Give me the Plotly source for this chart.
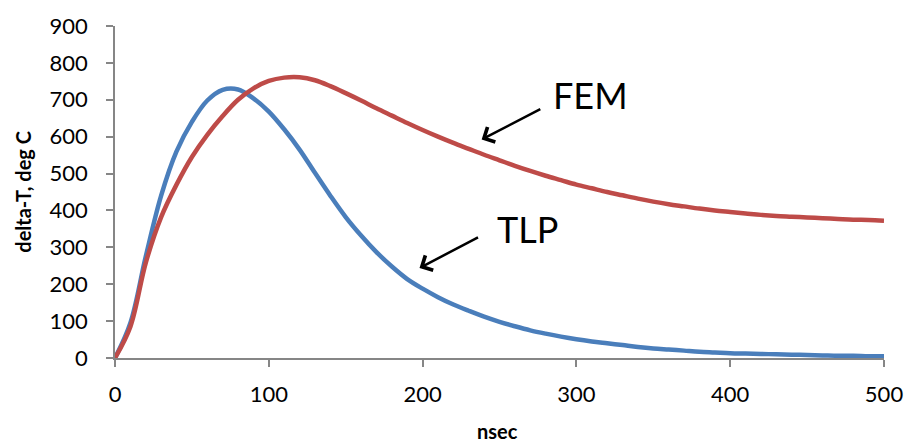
import plotly.graph_objects as go

# x positions (nsec), uniform 10 ns steps
nsec = list(range(0, 510, 10))

tlp = [0, 95, 275, 440, 560, 640, 698, 727, 728, 704,
       668, 620, 565, 502, 440, 382, 332, 287, 248, 214,
       188, 165, 145, 128, 112, 98, 86, 75, 66, 58,
       51, 45, 40, 35, 30, 26, 23, 20, 17, 15,
       13, 12, 11, 10, 9, 8, 7, 6, 6, 5, 5]

fem = [0, 85, 258, 382, 470, 545, 605, 656, 700, 731,
       751, 760, 761, 753, 737, 718, 698, 677, 657, 637,
       618, 600, 583, 567, 551, 536, 521, 507, 494, 482,
       470, 460, 450, 441, 432, 424, 417, 411, 405, 400,
       396, 392, 388, 385, 383, 381, 379, 377, 375, 374, 372]

x_ticks = [0, 100, 200, 300, 400, 500]
y_ticks = [0, 100, 200, 300, 400, 500, 600, 700, 800, 900]

FONT = "Lato"
axis_col = "#868686"

fig = go.Figure()
fig.add_trace(go.Scatter(x=nsec, y=tlp, mode="lines", name="TLP",
                         line=dict(color="#4A7EBB", width=4.5, shape="spline", smoothing=1.0)))
fig.add_trace(go.Scatter(x=nsec, y=fem, mode="lines", name="FEM",
                         line=dict(color="#BE4B48", width=4.5, shape="spline", smoothing=1.0)))

fig.update_layout(
    width=916, height=445,
    margin=dict(l=115, r=32, t=20, b=87),
    paper_bgcolor="white", plot_bgcolor="white",
    showlegend=False,
    font=dict(family=FONT, size=22, color="black"),
    xaxis=dict(range=[0, 500], tickvals=x_ticks, showgrid=False, zeroline=False,
               showline=True, linecolor=axis_col, linewidth=1.5,
               ticks="outside", ticklen=7, tickcolor=axis_col, tickwidth=1.5,
               tickfont=dict(family=FONT, size=22), ticklabelstandoff=9),
    yaxis=dict(range=[0, 900], tickvals=y_ticks, showgrid=False, zeroline=False,
               showline=True, linecolor=axis_col, linewidth=1.5,
               ticks="outside", ticklen=7, tickcolor=axis_col, tickwidth=1.5,
               tickfont=dict(family=FONT, size=22), ticklabelstandoff=14),
)

annotations = [
    dict(text="<b>delta-T, deg C</b>", xref="paper", yref="paper", x=-0.12, y=0.5,
         textangle=-90, showarrow=False, font=dict(family=FONT, size=20),
         xanchor="center", yanchor="middle"),
    dict(text="<b>nsec</b>", xref="paper", yref="paper", x=0.498, y=-0.22,
         showarrow=False, font=dict(family=FONT, size=20),
         xanchor="center", yanchor="middle"),
    dict(text="FEM", x=309, y=713, xref="x", yref="y", showarrow=False,
         font=dict(family=FONT, size=36), xanchor="center", yanchor="middle"),
    dict(text="TLP", x=268, y=350, xref="x", yref="y", showarrow=False,
         font=dict(family=FONT, size=36), xanchor="center", yanchor="middle"),
    dict(text="", x=238.4, y=592, ax=277.5, ay=677, xref="x", yref="y",
         axref="x", ayref="y", showarrow=True, arrowhead=4, arrowsize=1.3,
         arrowwidth=2.5, arrowcolor="black"),
    dict(text="", x=198, y=244, ax=237, ay=329, xref="x", yref="y",
         axref="x", ayref="y", showarrow=True, arrowhead=4, arrowsize=1.3,
         arrowwidth=2.5, arrowcolor="black"),
]
fig.update_layout(annotations=annotations)

fig.write_html("out.html")
